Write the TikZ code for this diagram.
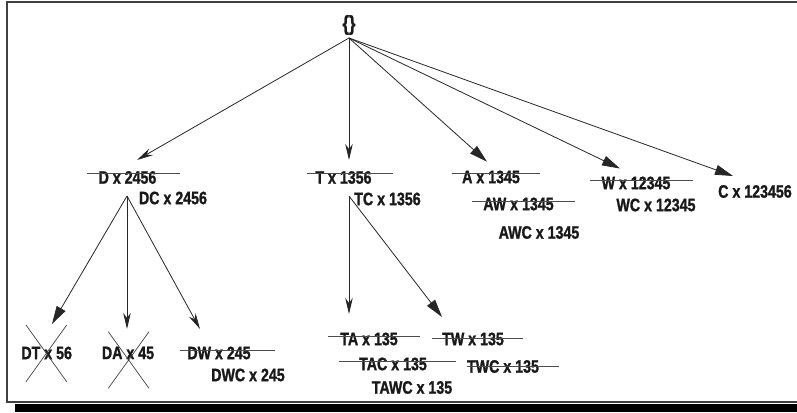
\documentclass[tikz,border=0pt]{standalone}
\usepackage{fontspec}
\setmainfont[FakeStretch=0.79, BoldFeatures={FakeBold=1.3}]{Liberation Sans}
\usetikzlibrary{arrows.meta}
\begin{document}
\begin{tikzpicture}[x=1pt,y=-1pt,
  lbl/.style={font=\bfseries\fontsize{18}{20}\selectfont, inner sep=0pt, text=black!90},
  edge/.style={line width=0.8pt, draw=black!85},
  wide/.style={edge, -{Triangle[length=18pt,width=10pt]}},
  dart/.style={edge, -{Stealth[length=16pt,width=7.5pt,inset=5pt]}},
  strike/.style={line width=0.7pt, draw=black!70},
  cross/.style={line width=0.7pt, draw=black!75},
]
\useasboundingbox (0,0) rectangle (797,412);
% frame and shadow
\fill[black] (15,403.5) rectangle (805,412);
\draw[line width=1.3pt, black!75] (7,2) rectangle (810,402);

% nodes
\node[lbl, font=\bfseries\fontsize{21}{23}\selectfont] (root) at (349,25) {\{\}};
\node[lbl] (D)   at (127.5,177.5) {D x 2456};
\node[lbl] (DC)  at (173,198) {DC x 2456};
\node[lbl] (T)   at (343.5,177.5) {T x 1356};
\node[lbl] (TC)  at (387.5,199) {TC x 1356};
\node[lbl] (A)   at (491,177) {A x 1345};
\node[lbl] (AW)  at (518.5,204) {AW x 1345};
\node[lbl] (AWC) at (539,232.5) {AWC x 1345};
\node[lbl] (W)   at (636,183) {W x 12345};
\node[lbl] (WC)  at (656,205) {WC x 12345};
\node[lbl] (C)   at (755,191.5) {C x 123456};
\node[lbl] (DT)  at (46.7,353) {DT x 56};
\node[lbl] (DA)  at (128,353) {DA x 45};
\node[lbl] (DW)  at (219,353) {DW x 245};
\node[lbl] (DWC) at (248,375) {DWC x 245};
\node[lbl] (TA)  at (369,339) {TA x 135};
\node[lbl] (TW)  at (473,339) {TW x 135};
\node[lbl] (TAC) at (393,364) {TAC x 135};
\node[lbl] (TWC) at (503,366.5) {TWC x 135};
\node[lbl] (TAWC) at (412,387.5) {TAWC x 135};

% strike-through lines
\draw[strike] (87,173.3) -- (180,173.3);
\draw[strike] (307,173) -- (393,173);
\draw[strike] (451.7,173.3) -- (540,173.3);
\draw[strike] (471.7,201.7) -- (575,201.7);
\draw[strike] (590,180.7) -- (692.7,180.7);
\draw[strike] (180,350) -- (275,350);
\draw[strike] (328,336.7) -- (420,336.7);
\draw[strike] (431.7,338.3) -- (522.7,338.3);
\draw[strike] (339,361) -- (456,361);
\draw[strike] (466.7,366.7) -- (559,366.7);

% crosses
\draw[cross] (26,325) -- (66.7,381.7) (66.7,325) -- (26,381.7);
\draw[cross] (108.3,331.7) -- (149,388.3) (149,331.7) -- (108.3,388.3);

% connector endpoints
\coordinate (r)  at (349,38);
\coordinate (dc) at (127,196);
\coordinate (tc) at (349,196);
\coordinate (tD) at (137,160);
\coordinate (tT) at (349,160);
\coordinate (tA) at (487,161.7);
\coordinate (tW) at (620,168.5);
\coordinate (tC) at (733,176);
\coordinate (tDT) at (52,324);
\coordinate (tDA) at (127,329);
\coordinate (tDW) at (200,329);
\coordinate (tTA) at (349,314);
\coordinate (tTW) at (442,317);

% connectors
\draw[dart] (r) -- (tD);
\draw[dart] (r) -- (tT);
\draw[wide] (r) -- (tA);
\draw[wide] (r) -- (tW);
\draw[wide] (r) -- (tC);
\draw[wide] (dc) -- (tDT);
\draw[dart] (dc) -- (tDA);
\draw[dart] (dc) -- (tDW);
\draw[dart] (tc) -- (tTA);
\draw[wide] (tc) -- (tTW);
\end{tikzpicture}
\end{document}
